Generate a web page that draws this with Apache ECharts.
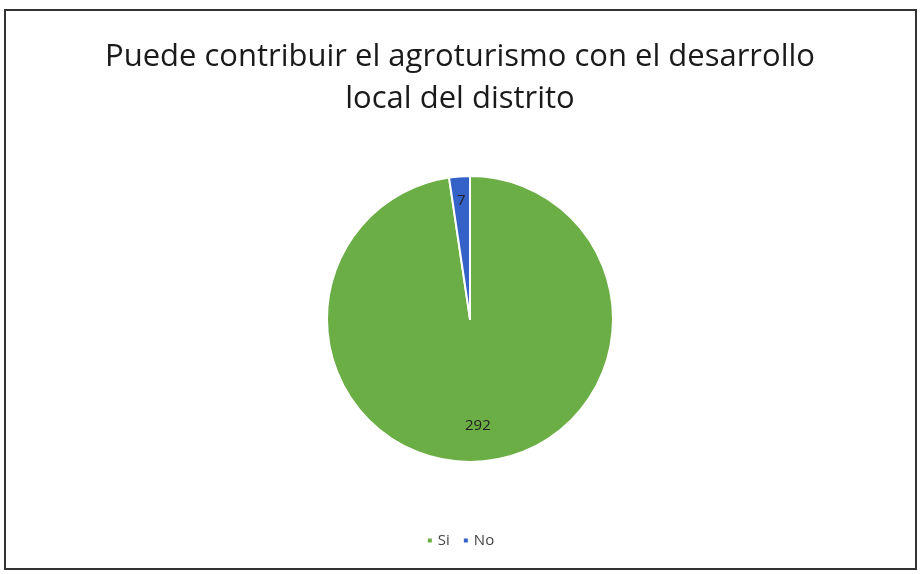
<!DOCTYPE html>
<html><head><meta charset="utf-8">
<script src="https://cdn.jsdelivr.net/npm/echarts@6/dist/echarts.min.js"></script>
<style>html,body{margin:0;padding:0;background:#fff}#c{width:920px;height:574px}</style>
</head><body><div id="c"></div>
<script>
const titleText = 'Puede contribuir el agroturismo con el desarrollo\nlocal del distrito';
const categories = ['Si', 'No'];
const values = [292, 7];
const colors = ['#6CAE46', '#3462C6'];

const W = 920, H = 574;
const cx = 470, cy = 319, R = 143;
const total = values.reduce((a, b) => a + b, 0);

const chart = echarts.init(document.getElementById('c'), null, {renderer: 'canvas', width: W, height: H});
chart.setOption({
  backgroundColor: '#fff',
  graphic: [{type: 'rect', shape: {x: 5, y: 10, width: 911, height: 559}, style: {fill: 'none', stroke: '#333', lineWidth: 2}, silent: true}],
  title: {
    text: titleText, left: 'center', top: 31,
    textStyle: {fontFamily: 'Open Sans', fontSize: 31, fontWeight: 'normal', color: '#1a1a1a', lineHeight: 42}
  },
  legend: {
    data: categories, bottom: 21, left: 'center', itemWidth: 6, itemHeight: 6, itemGap: 12,
    icon: 'rect',
    textStyle: {fontFamily: 'Open Sans', fontSize: 15, color: '#444'}
  },
  series: [{
    type: 'pie',
    center: [cx, cy], radius: R,
    startAngle: 90, clockwise: true,
    avoidLabelOverlap: false,
    data: categories.map((c, i) => ({name: c, value: values[i], itemStyle: {color: colors[i]}})),
    itemStyle: {borderColor: '#fff', borderWidth: 2},
    label: {show: true, position: 'inside', formatter: '{c}', fontFamily: 'Open Sans', fontSize: 15, color: '#222'},
    labelLine: {show: false},
    labelLayout: function (p) {
      let before = 0;
      for (let i = 0; i < p.dataIndex; i++) before += values[i];
      const mid = (before + values[p.dataIndex] / 2) / total * 2 * Math.PI;
      const f = p.dataIndex === 0 ? 0.75 : 0.83;
      return {x: cx + f * R * Math.sin(mid), y: cy - f * R * Math.cos(mid), align: 'center', verticalAlign: 'middle'};
    }
  }]
});
</script></body></html>
